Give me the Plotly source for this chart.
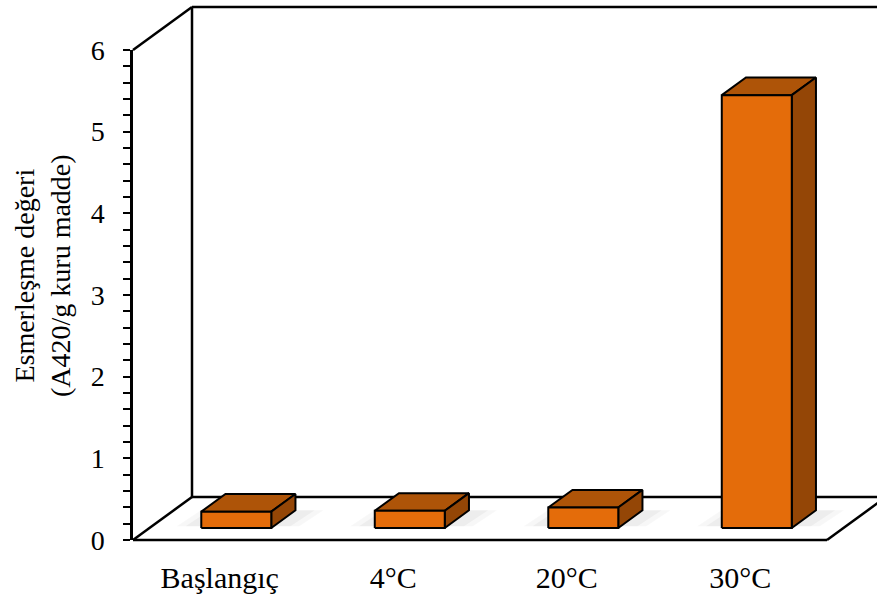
import plotly.graph_objects as go

# ---- data ----
categories = ["Başlangıç", "4°C", "20°C", "30°C"]
values = [0.20, 0.21, 0.25, 5.30]
y_tick_values = [0, 1, 2, 3, 4, 5, 6]
y_title_lines = ["Esmerleşme değeri", "(A420/g kuru madde)"]

# ---- layout constants (pixels) ----
W, H = 877, 598
AX_LEFT_PX, AX_RIGHT_PX = 133, 827
ZERO_PX, TOP_PX = 540, 50
DEPTH_PX = (59, 43)
BAR_HALF_PX = 35
BAR_D0, BAR_D1 = 0.28, 0.69

FRONT = "#E46C0A"
TOP = "#AE5408"
SIDE = "#944606"
FONT = "Liberation Serif"

n = len(categories)
y_max = y_tick_values[-1]
px_x = (AX_RIGHT_PX - AX_LEFT_PX) / n
px_y = (ZERO_PX - TOP_PX) / y_max
x0 = -0.5
x_range = [x0 - AX_LEFT_PX / px_x, x0 + (W - AX_LEFT_PX) / px_x]
y_range = [-(H - ZERO_PX) / px_y, ZERO_PX / px_y]
dx, dy = DEPTH_PX[0] / px_x, DEPTH_PX[1] / px_y
bw = BAR_HALF_PX / px_x

fig = go.Figure()

# ---- walls / floor outline ----
segs = [
    ((x0, 0), (x0 + n, 0)),
    ((x0 + dx, dy), (x0 + n + dx, dy)),
    ((x0 + n, 0), (x0 + n + dx, dy)),
    ((x0, 0), (x0 + dx, dy)),
    ((x0 + dx, dy), (x0 + dx, y_max + dy)),
    ((x0 + dx, y_max + dy), (x0 + n + dx, y_max + dy)),
    ((x0 + n + dx, dy), (x0 + n + dx, y_max + dy)),
    ((x0, y_max), (x0 + dx, y_max + dy)),
]
lx, ly = [], []
for (a, b) in segs:
    lx += [a[0], b[0], None]
    ly += [a[1], b[1], None]
fig.add_trace(go.Scatter(x=lx, y=ly, mode="lines",
                         line=dict(color="black", width=2.5),
                         hoverinfo="skip", showlegend=False))

# ---- soft shadows on floor ----
for i, v in enumerate(values):
    ax0, ay0 = BAR_D0 * dx, BAR_D0 * dy
    ax1, ay1 = BAR_D1 * dx, BAR_D1 * dy
    for k, a in [(1.7, 0.03), (1.45, 0.04)]:
        sx = [i - bw * k + ax0, i + bw * (k + 0.1) + ax0, i + bw * (k + 0.1) + ax1,
              i - bw * k + ax1, i - bw * k + ax0]
        sy = [ay0 + 0.02, ay0 + 0.02, ay1, ay1, ay0 + 0.02]
        fig.add_trace(go.Scatter(x=sx, y=sy, mode="lines", fill="toself",
                                 fillcolor=f"rgba(0,0,0,{a})", line=dict(width=0),
                                 hoverinfo="skip", showlegend=False))

# ---- 3D bars ----
for i, v in enumerate(values):
    ax0, ay0 = BAR_D0 * dx, BAR_D0 * dy
    ax1, ay1 = BAR_D1 * dx, BAR_D1 * dy
    L, R = i - bw, i + bw
    top_x = [L + ax0, R + ax0, R + ax1, L + ax1, L + ax0]
    top_y = [v + ay0, v + ay0, v + ay1, v + ay1, v + ay0]
    side_x = [R + ax0, R + ax1, R + ax1, R + ax0, R + ax0]
    side_y = [ay0, ay1, v + ay1, v + ay0, ay0]
    front_x = [L + ax0, R + ax0, R + ax0, L + ax0, L + ax0]
    front_y = [ay0, ay0, v + ay0, v + ay0, ay0]
    for px, py, col in [(top_x, top_y, TOP), (side_x, side_y, SIDE), (front_x, front_y, FRONT)]:
        fig.add_trace(go.Scatter(x=px, y=py, mode="lines", fill="toself",
                                 fillcolor=col, line=dict(color="black", width=2),
                                 hoverinfo="skip", showlegend=False))

# invisible trace carrying the values on the visible axes
fig.add_trace(go.Scatter(x=list(range(n)), y=values, xaxis="x2", yaxis="y2",
                         mode="markers", marker=dict(opacity=0),
                         text=categories, hovertemplate="%{text}: %{y}<extra></extra>",
                         showlegend=False))

fig.update_layout(
    width=W, height=H, autosize=False,
    margin=dict(l=0, r=0, t=0, b=0, pad=0, autoexpand=False),
    paper_bgcolor="white", plot_bgcolor="rgba(0,0,0,0)",
    xaxis=dict(domain=[0, 1], range=x_range, visible=False, fixedrange=True, automargin=False),
    yaxis=dict(domain=[0, 1], range=y_range, visible=False, fixedrange=True, automargin=False),
    xaxis2=dict(domain=[AX_LEFT_PX / W, AX_RIGHT_PX / W], range=[x0, x0 + n],
                anchor="y2", showline=False, showgrid=False, zeroline=False,
                automargin=False,
                tickvals=list(range(n)), ticktext=categories, ticks="",
                ticklabelstandoff=17,
                tickfont=dict(family=FONT, size=30, color="black")),
    yaxis2=dict(domain=[(H - ZERO_PX) / H, (H - TOP_PX) / H], range=[0, y_max],
                anchor="x2", showline=True, linecolor="black", linewidth=2.5,
                showgrid=False, zeroline=False, automargin=False,
                tickvals=y_tick_values, ticks="outside", ticklen=7, tickwidth=2,
                tickcolor="black", ticklabelstandoff=13,
                minor=dict(dtick=0.2, ticks="outside", ticklen=7, tickwidth=2,
                           tickcolor="black", showgrid=False),
                tickfont=dict(family=FONT, size=28, color="black")),
    yaxis3=dict(overlaying="y2", anchor="x2", side="left", range=[0, y_max],
                tickvals=y_tick_values, ticks="inside", ticklen=10, tickwidth=2,
                tickcolor="black", showticklabels=False, showline=False,
                showgrid=False, zeroline=False, automargin=False),
    annotations=[dict(
        text="<br>".join(y_title_lines), textangle=-90,
        xref="paper", yref="paper", x=42 / W, y=(H - 276) / H,
        xanchor="center", yanchor="middle", showarrow=False,
        font=dict(family=FONT, size=28, color="black"))],
)

fig.write_html("out.html")
